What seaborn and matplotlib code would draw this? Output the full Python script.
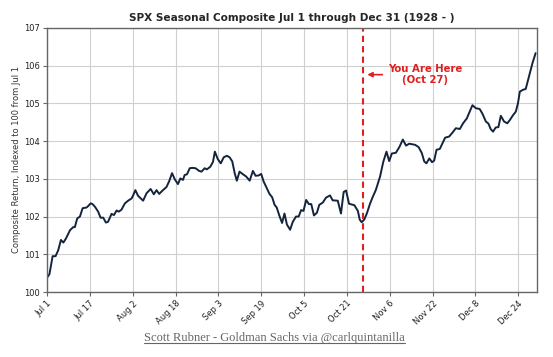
import pandas as pd
import seaborn as sns
import matplotlib.pyplot as plt
from matplotlib.lines import Line2D

# days after Jul 1 and composite value
days = [0.1, 0.9, 2.1, 3.2, 4.2, 5.2, 6.1, 7.1, 8.6, 9.8, 10.4, 11.3, 12.3, 13.3, 14.8, 15.4,
        16.3, 17.0, 17.9, 19.1, 20.0, 21.0, 22.0, 22.8, 24.1, 25.0, 26.0, 26.8, 27.8, 29.1,
        30.3, 31.6, 32.1, 33.0, 34.0, 35.9, 37.2, 38.7, 39.9, 40.9, 41.9, 43.3, 44.6, 45.6,
        46.7, 47.7, 48.9, 49.8, 50.8, 51.4, 52.3, 53.3, 54.3, 55.5, 56.8, 57.7, 58.9, 59.7,
        61.0, 62.0, 62.7, 63.8, 64.9, 66.0, 67.2, 68.2, 69.2, 70.1, 70.9, 71.9, 73.2, 74.4,
        75.7, 76.9, 77.9, 79.1, 80.0, 80.9, 81.9, 83.1, 84.1, 85.0, 85.8, 86.8, 87.8, 88.7,
        89.6, 90.8, 91.8, 93.0, 94.0, 94.9, 95.8, 96.8, 97.8, 98.7, 99.7, 100.8, 101.7, 103.0,
        104.2, 105.7, 106.7, 108.6, 109.8, 110.8, 111.7, 112.8, 114.8, 116.1, 116.8, 117.5,
        118.5, 119.5, 120.6, 121.6, 122.8, 124.4, 125.6, 126.8, 127.8, 128.8, 130.3, 131.6,
        132.9, 134.1, 135.3, 137.5, 138.8, 140.0, 140.9, 141.7, 142.8, 143.8, 144.6, 145.5,
        146.7, 147.7, 148.7, 150.2, 151.4, 152.7, 154.2, 155.4, 156.8, 157.9, 158.9, 160.2,
        161.6, 162.6, 163.9, 164.9, 165.7, 166.6, 167.6, 168.6, 169.5, 170.7, 171.9, 172.9,
        174.1, 175.1, 175.9, 176.6, 177.8, 178.8, 180.0, 181.3, 182.5]
values = [100.39, 100.47, 100.95, 100.95, 101.11, 101.38, 101.31, 101.42, 101.64, 101.72, 101.72,
          101.95, 102.0, 102.22, 102.24, 102.28, 102.35, 102.33, 102.26, 102.13, 101.97, 101.97,
          101.84, 101.86, 102.07, 102.04, 102.16, 102.13, 102.18, 102.35, 102.42, 102.48, 102.55,
          102.7, 102.55, 102.42, 102.62, 102.73, 102.59, 102.7, 102.6, 102.7, 102.78, 102.93,
          103.15, 102.99, 102.86, 103.01, 102.97, 103.1, 103.12, 103.28, 103.29, 103.28, 103.21,
          103.19, 103.28, 103.25, 103.32, 103.45, 103.72, 103.52, 103.41, 103.57, 103.61, 103.57,
          103.46, 103.15, 102.95, 103.19, 103.12, 103.06, 102.95, 103.21, 103.08, 103.09, 103.13,
          102.93, 102.78, 102.6, 102.51, 102.31, 102.24, 102.02, 101.83, 102.08, 101.79, 101.65,
          101.86, 102.0, 102.0, 102.17, 102.15, 102.44, 102.33, 102.33, 102.03, 102.1, 102.31,
          102.37, 102.5, 102.56, 102.43, 102.42, 102.08, 102.65, 102.69, 102.34, 102.3, 102.15,
          101.92, 101.85, 101.92, 102.09, 102.33, 102.51, 102.7, 103.06, 103.45, 103.72, 103.47,
          103.67, 103.69, 103.84, 104.04, 103.88, 103.93, 103.9, 103.84, 103.68, 103.46, 103.41,
          103.54, 103.44, 103.48, 103.77, 103.79, 103.94, 104.09, 104.12, 104.22, 104.34, 104.32,
          104.47, 104.6, 104.78, 104.95, 104.87, 104.85, 104.73, 104.52, 104.46, 104.32, 104.25,
          104.36, 104.37, 104.67, 104.52, 104.47, 104.56, 104.69, 104.78, 105.0, 105.31, 105.36,
          105.38, 105.71, 106.06, 106.33]

tick_days = [0, 16, 32, 48, 64, 80, 96, 112, 128, 144, 160, 176]
tick_labels = ["Jul 1", "Jul 17", "Aug 2", "Aug 18", "Sep 3", "Sep 19",
               "Oct 5", "Oct 21", "Nov 6", "Nov 22", "Dec 8", "Dec 24"]
today = 118  # Oct 27

df = pd.DataFrame({"day": days, "value": values})

sns.set_style("whitegrid", {"grid.color": "#d0d0d0", "axes.edgecolor": "#666666",
                            "xtick.bottom": True, "ytick.left": True})

fig = plt.figure(figsize=(5.53, 3.57), dpi=100)
ax = fig.add_axes([0.085, 0.182, 0.886, 0.740])

sns.lineplot(data=df, x="day", y="value", color="#14243d", linewidth=1.4, ax=ax)
ax.axvline(today, color="#e02020", linestyle=(0, (3, 2)), linewidth=1.5)

ax.annotate("You Are Here\n(Oct 27)", xy=(today + 0.6, 105.76), xytext=(127.5, 105.76),
            color="#e02020", fontsize=7.3, fontweight="bold", ha="left", va="center",
            multialignment="center",
            arrowprops=dict(arrowstyle="-|>", color="#e02020", lw=1.2, mutation_scale=7))

ax.set_xlim(0, 183)
ax.set_ylim(100, 107)
ax.set_xticks(tick_days)
ax.set_xticklabels(tick_labels, rotation=45, ha="right", rotation_mode="anchor")
ax.set_yticks(range(100, 108))
ax.tick_params(axis="both", labelsize=6, length=3, color="#666666", labelcolor="#222222", pad=2)
ax.set_xlabel("")
ax.set_ylabel("Composite Return, Indexed to 100 from Jul 1", fontsize=6, color="#333333",
              labelpad=2)
ax.set_title("SPX Seasonal Composite Jul 1 through Dec 31 (1928 - )",
             fontsize=7.6, fontweight="bold", pad=5)
for s in ax.spines.values():
    s.set_linewidth(1.0)

foot = fig.text(0.497, 0.046, "Scott Rubner - Goldman Sachs via @carlquintanilla",
                fontsize=9, family="Liberation Serif", color="#666666", ha="center")
fig.canvas.draw()
bb = foot.get_window_extent().transformed(fig.transFigure.inverted())
fig.add_artist(Line2D([bb.x0, bb.x1], [bb.y0 + 0.001, bb.y0 + 0.001],
                      transform=fig.transFigure, color="#666666", linewidth=0.8))

fig.savefig("out.png", dpi=100)
